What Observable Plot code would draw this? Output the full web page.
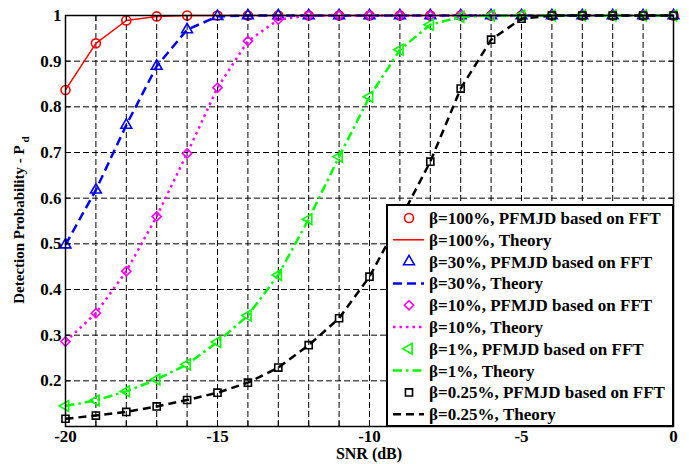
<!DOCTYPE html>
<html>
<head>
<meta charset="utf-8">
<script src="https://cdn.jsdelivr.net/npm/d3@7"></script>
<script src="https://cdn.jsdelivr.net/npm/@observablehq/plot@0.6"></script>
<style>
  html, body { margin: 0; padding: 0; background: white; }
  #chart { position: relative; width: 689px; height: 464px; }
</style>
</head>
<body>
<div id="chart"></div>
<script>
// ---------- data ----------
const snr = [-20,-19,-18,-17,-16,-15,-14,-13,-12,-11,-10,-9,-8,-7,-6,-5,-4,-3,-2,-1,0];
const pd100 = [0.837,0.939,0.989,0.998,1,1,1,1,1,1,1,1,1,1,1,1,1,1,1,1,1];
const pd30  = [0.498,0.618,0.760,0.889,0.969,0.998,1,1,1,1,1,1,1,1,1,1,1,1,1,1,1];
const pd10  = [0.286,0.348,0.440,0.560,0.698,0.842,0.944,0.991,1,1,1,1,1,1,1,1,1,1,1,1,1];
const pd1   = [0.145,0.157,0.177,0.203,0.236,0.285,0.343,0.432,0.554,0.691,0.822,0.925,0.980,0.997,1,1,1,1,1,1,1];
const pd025 = [0.117,0.124,0.132,0.144,0.158,0.174,0.196,0.229,0.278,0.337,0.428,0.552,0.680,0.840,0.947,0.993,1,1,1,1,1];
const xTickLabels = [-20,-15,-10,-5,0];
const yTicks = [0.1,0.2,0.3,0.4,0.5,0.6,0.7,0.8,0.9,1];
const yTickLabels = [0.2,0.3,0.4,0.5,0.6,0.7,0.8,0.9,1];
const seriesNames = ["β=100%","β=30%","β=10%","β=1%","β=0.25%"];
const xLabel = "SNR (dB)";
const yLabel = "Detection Probability - P";
const yLabelSub = "d";

// ---------- styles ----------
const FONT = '"Liberation Serif","Times New Roman",Times,serif';
const diamond = {
  draw(ctx, size) {
    const r = Math.sqrt(size / Math.PI) * 1.15;
    ctx.moveTo(0, -r); ctx.lineTo(r, 0); ctx.lineTo(0, r); ctx.lineTo(-r, 0); ctx.closePath();
  }
};
const styles = [
  {vals: pd100, color: "#ff0000", dash: null, width: 1.5, symbol: "circle", r: 4.5, rotate: 0},
  {vals: pd30,  color: "#0000ff", dash: "9,5", width: 2.5, symbol: "triangle", r: 4, rotate: 0},
  {vals: pd10,  color: "#ff00ff", dash: "2.5,4", width: 2.5, symbol: diamond, r: 4, rotate: 0},
  {vals: pd1,   color: "#00ff00", dash: "9,4,2.5,4", width: 2.5, symbol: "triangle", r: 4, rotate: -90},
  {vals: pd025, color: "#000000", dash: "8,5", width: 2.5, symbol: "square", r: 4, rotate: 0}
];

const seriesMarks = styles.flatMap(s => {
  const data = snr.map((x, i) => ({x, y: s.vals[i]}));
  return [
    Plot.line(data, {x: "x", y: "y", stroke: s.color, strokeWidth: s.width, strokeDasharray: s.dash, strokeLinecap: "butt"}),
    Plot.dot(data, {x: "x", y: "y", stroke: s.color, fill: "none", strokeWidth: 1.6, symbol: s.symbol, r: s.r, rotate: s.rotate})
  ];
});

const chart = Plot.plot({
  width: 689, height: 464,
  marginLeft: 65, marginRight: 16, marginTop: 15, marginBottom: 38,
  style: {fontFamily: FONT, fontSize: "17px", fontWeight: "bold", color: "black", background: "white", overflow: "visible"},
  x: {domain: [-20, 0]},
  y: {domain: [0.1, 1]},
  marks: [
    Plot.ruleX(snr, {stroke: "black", strokeDasharray: "6,3", strokeWidth: 1}),
    Plot.ruleY(yTicks, {stroke: "black", strokeDasharray: "6,3", strokeWidth: 1}),
    ...seriesMarks,
    Plot.axisX({ticks: snr, tickSize: 5, dy: -5, tickFormat: () => "", label: null, anchor: "bottom", strokeWidth: 1}),
    Plot.axisX({ticks: snr, tickSize: 5, dy: 5, tickFormat: () => "", label: null, anchor: "top", strokeWidth: 1}),
    Plot.axisY({ticks: yTicks, tickSize: 5, dx: 5, tickFormat: () => "", label: null, anchor: "left", strokeWidth: 1}),
    Plot.axisY({ticks: yTicks, tickSize: 5, dx: -5, tickFormat: () => "", label: null, anchor: "right", strokeWidth: 1}),
    Plot.axisX({ticks: xTickLabels, tickSize: 0, tickPadding: 3, tickFormat: d => String(d), label: null, anchor: "bottom", fontSize: 17, fontWeight: "bold"}),
    Plot.axisY({ticks: yTickLabels, tickSize: 0, tickPadding: 4, tickFormat: d => d === 1 ? "1" : d.toFixed(1), label: null, anchor: "left", fontSize: 17, fontWeight: "bold"}),
    Plot.frame({stroke: "black", strokeWidth: 1.5})
  ]
});
document.getElementById("chart").appendChild(chart);

// ---------- axis labels ----------
const svg = d3.select(chart);
svg.append("text")
  .attr("x", (65 + 673) / 2).attr("y", 459)
  .attr("text-anchor", "middle")
  .style("font-family", FONT).style("font-size", "16px").style("font-weight", "bold")
  .text(xLabel);
const yl = svg.append("text")
  .attr("transform", "translate(24,220) rotate(-90)")
  .attr("text-anchor", "middle")
  .style("font-family", FONT).style("font-size", "15px").style("font-weight", "bold");
yl.append("tspan").text(yLabel + " ");
yl.append("tspan").attr("dy", 5).style("font-size", "11px").text(yLabelSub);

// ---------- legend ----------
const lg = svg.append("g").attr("text-anchor", "start");
const lx = 387, ly = 205, lw = 286, lh = 221;
lg.append("rect").attr("x", lx).attr("y", ly).attr("width", lw).attr("height", lh)
  .attr("fill", "white").attr("stroke", "black").attr("stroke-width", 2);
const symMap = {circle: d3.symbolCircle, triangle: d3.symbolTriangle, square: d3.symbolSquare};
styles.forEach((s, k) => {
  const names = [seriesNames[k] + ", PFMJD based on FFT", seriesNames[k] + ", Theory"];
  names.forEach((name, j) => {
    const i = k * 2 + j;
    const cy = 218 + i * 21.8;
    if (j === 0) {
      const type = typeof s.symbol === "string" ? symMap[s.symbol] : s.symbol;
      lg.append("path")
        .attr("d", d3.symbol(type, Math.PI * s.r * s.r)())
        .attr("transform", `translate(409,${cy}) rotate(${s.rotate})`)
        .attr("fill", "none").attr("stroke", s.color).attr("stroke-width", 1.6);
    } else {
      lg.append("line").attr("x1", 393).attr("x2", 424).attr("y1", cy).attr("y2", cy)
        .attr("stroke", s.color).attr("stroke-width", s.width)
        .attr("stroke-dasharray", s.dash);
    }
    lg.append("text").attr("x", 429).attr("y", cy).attr("dy", "0.35em")
      .attr("text-anchor", "start")
      .style("font-family", FONT).style("font-size", "17px").style("font-weight", "bold")
      .text(name);
  });
});
</script>
</body>
</html>
